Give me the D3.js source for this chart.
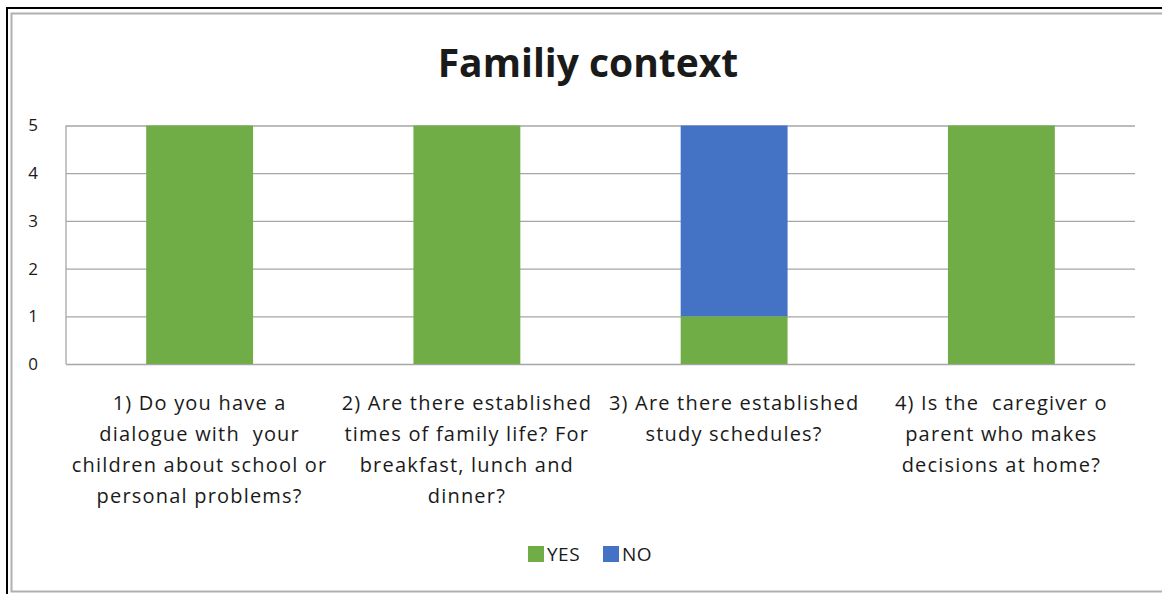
<!DOCTYPE html>
<html>
<head>
<meta charset="utf-8">
<script src="https://cdn.jsdelivr.net/npm/d3@7"></script>
<style>
  body { margin: 0; background: #fff; overflow: hidden; }
  svg { display: block; }
  text { font-family: "Open Sans", Lato, sans-serif; fill: #1a1a1a; white-space: pre; }
</style>
</head>
<body>
<svg id="canvas"></svg>
<script>
var w = 1162
var h = 594

// ########## Data ##########
var categories = [
    ["1) Do you have a", "dialogue with  your", "children about school or", "personal problems?"],
    ["2) Are there established", "times of family life? For", "breakfast, lunch and", "dinner?"],
    ["3) Are there established", "study schedules?"],
    ["4) Is the  caregiver o", "parent who makes", "decisions at home?"]
];
var yesValues = [5, 5, 1, 5];
var noValues = [0, 0, 4, 0];
var yTicks = [0, 1, 2, 3, 4, 5];
var seriesNames = ["YES", "NO"];
var colors = ["#70ad47", "#4472c4"];

// ########## SVG ##########
var svg = d3.select("#canvas")
    .attr("width", w)
    .attr("height", h);

// frame
svg.append("rect")
    .attr("x", 7).attr("y", 8)
    .attr("width", w + 20).attr("height", h + 20)
    .attr("fill", "none").attr("stroke", "#000").attr("stroke-width", 2);
svg.append("rect")
    .attr("x", 11.5).attr("y", 13.5)
    .attr("width", w + 20).attr("height", 578)
    .attr("fill", "none").attr("stroke", "#b0b0b0").attr("stroke-width", 2);

var margin = { left: 66, right: 1135, top: 125.5, bottom: 364 };

var idx = categories.map(function (d, i) { return i; });

var x = d3.scaleBand()
    .domain(idx)
    .range([margin.left, margin.right])
    .paddingInner(0.6)
    .paddingOuter(0.3);

var y = d3.scaleLinear()
    .domain([0, 5])
    .range([margin.bottom, margin.top]);

// ########## Gridlines ##########
svg.append("g")
    .attr("transform", "translate(" + margin.left + ",0)")
    .call(d3.axisLeft(y).tickValues(yTicks).tickSize(-(margin.right - margin.left)).tickFormat(""))
    .call(function (g) {
        g.select(".domain").remove();
        g.selectAll("line").attr("stroke", "#a6a6a6").attr("stroke-width", 1.3);
    });

svg.append("line")
    .attr("x1", margin.left).attr("x2", margin.left)
    .attr("y1", y(5)).attr("y2", y(0))
    .attr("stroke", "#a6a6a6").attr("stroke-width", 1.3);

// ########## Bars ##########
var stack = d3.stack().keys([0, 1])
    .value(function (d, k) { return k === 0 ? yesValues[d] : noValues[d]; });
var series = stack(idx);

svg.selectAll(".series")
    .data(series).enter()
    .append("g")
    .attr("fill", function (d, i) { return colors[i]; })
    .selectAll("rect")
    .data(function (d) { return d; }).enter()
    .append("rect")
    .attr("x", function (d) { return x(d.data); })
    .attr("width", x.bandwidth())
    .attr("y", function (d) { return y(d[1]); })
    .attr("height", function (d) { return y(d[0]) - y(d[1]); });

// ########## Y labels ##########
svg.selectAll(".ylabel")
    .data(yTicks).enter()
    .append("text")
    .attr("x", 38)
    .attr("y", function (d) { return y(d); })
    .attr("dy", "0.35em")
    .attr("text-anchor", "end")
    .style("font-size", "17px")
    .text(function (d) { return d; });

// ########## Category labels ##########
var catLabel = svg.selectAll(".cat")
    .data(idx).enter()
    .append("text")
    .attr("text-anchor", "middle")
    .style("font-size", "20px")
    .style("letter-spacing", "1.2px");

catLabel.selectAll("tspan")
    .data(function (d) { return categories[d].map(function (t) { return { t: t, c: d }; }); })
    .enter().append("tspan")
    .attr("x", function (d) { return x(d.c) + x.bandwidth() / 2; })
    .attr("y", function (d, i) { return 410 + i * 31; })
    .text(function (d) { return d.t; });

// ########## Title ##########
svg.append("text")
    .attr("x", 588)
    .attr("y", 77)
    .attr("text-anchor", "middle")
    .style("font-size", "39px")
    .style("font-weight", "bold")
    .text("Familiy context");

// ########## Legend ##########
var legendX = [528, 603];
var legend = svg.selectAll(".legend")
    .data(seriesNames).enter()
    .append("g")
    .attr("transform", function (d, i) { return "translate(" + legendX[i] + ",546)"; });

legend.append("rect")
    .attr("width", 16).attr("height", 16)
    .attr("fill", function (d, i) { return colors[i]; });

legend.append("text")
    .attr("x", 19).attr("y", 15)
    .style("font-size", "19px")
    .style("letter-spacing", "0.5px")
    .text(function (d) { return d; });
</script>
</body>
</html>
